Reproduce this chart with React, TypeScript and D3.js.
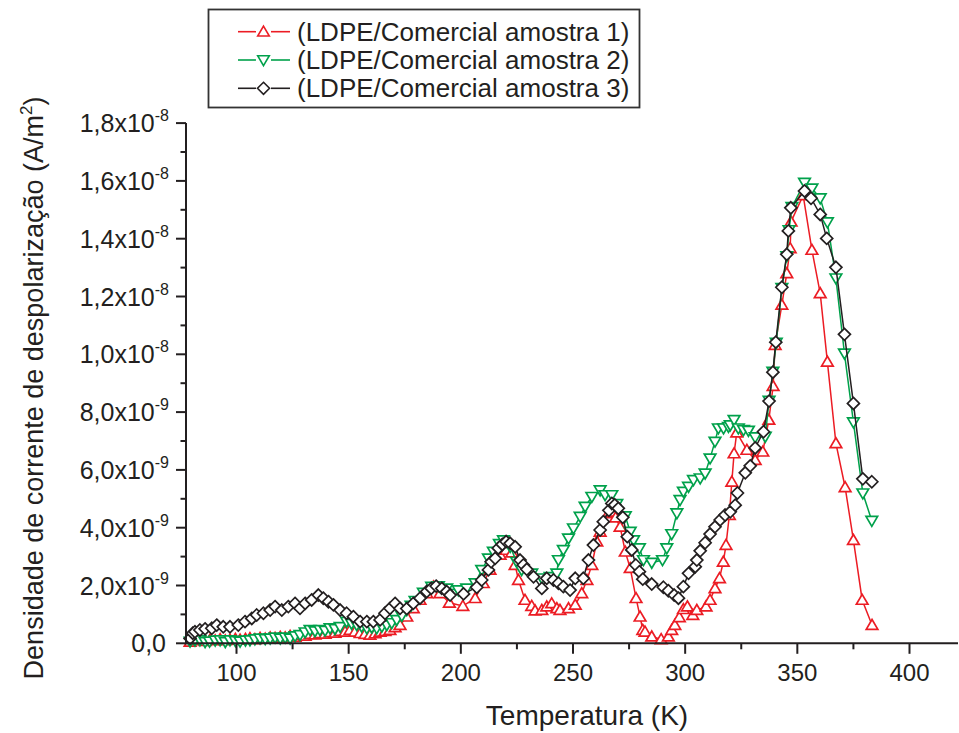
import React from 'react';
import * as d3 from 'd3';

const W = 959;
const H = 733;

// ---------- tick data ----------
const xTickValues = [100, 150, 200, 250, 300, 350, 400];
const xMinorValues = [125, 175, 225, 275, 325, 375, 425];
const yTickValues = [0, 2, 4, 6, 8, 10, 12, 14, 16, 18]; // units of 1e-9
const yMinorValues = [1, 3, 5, 7, 9, 11, 13, 15, 17];
const yTickMain = ['0,0', '2,0x10', '4,0x10', '6,0x10', '8,0x10', '1,0x10', '1,2x10', '1,4x10', '1,6x10', '1,8x10'];
const yTickExp = ['', '-9', '-9', '-9', '-9', '-8', '-8', '-8', '-8', '-8'];

const seriesNames = ['(LDPE/Comercial amostra 1)', '(LDPE/Comercial amostra 2)', '(LDPE/Comercial amostra 3)'];

// ---------- series 1 (red, up triangles) ----------
const s1T = [79.3, 81.5, 83.7, 86, 88.2, 90.5, 92.7, 95, 97.1, 99.5, 101.6, 104, 106, 108.2, 110.5, 112.8, 115, 117.2, 119.5, 121.7, 123.9, 126.1, 128.3, 130.6, 132.8, 135, 137.2, 139.5, 141.7, 143.9, 146.2, 148.4, 150.6, 152.8, 155.1, 157.3, 159.5, 161.8, 164, 166.2, 168.4, 170.7, 172.9, 175.9, 178.8, 181.8, 184.8, 187.8, 190.7, 194.9, 200.9, 206.4, 210, 213, 217.5, 220.2, 222.7, 224.2, 225.7, 228.6, 231.6, 233.1, 236.1, 238.3, 240.5, 242.8, 244.2, 248, 251, 253.9, 256.2, 258.4, 260.6, 262.1, 265.8, 267.3, 269, 271, 273.3, 275.5, 278.1, 279.9, 281.1, 282.1, 285.1, 289.3, 292.5, 294, 295.4, 297.4, 299.2, 301, 303.4, 305.2, 309.3, 311.1, 313.3, 315.3, 317, 318.2, 319.7, 320.8, 321.8, 323, 327.5, 331.2, 334.6, 337.3, 339.2, 340.1, 343.1, 345.3, 346.8, 347.2, 352.6, 356.5, 360.2, 363.4, 367.2, 371.3, 375.0, 378.9, 383.3];
const s1V = [0.05, 0.10, 0.12, 0.08, 0.12, 0.10, 0.14, 0.10, 0.12, 0.15, 0.12, 0.15, 0.17, 0.14, 0.18, 0.16, 0.20, 0.18, 0.22, 0.20, 0.25, 0.22, 0.28, 0.26, 0.32, 0.30, 0.35, 0.33, 0.38, 0.36, 0.42, 0.40, 0.46, 0.40, 0.35, 0.32, 0.29, 0.34, 0.40, 0.42, 0.46, 0.55, 0.63, 0.92, 1.21, 1.50, 1.73, 1.96, 1.73, 1.40, 1.29, 1.56, 2.08, 2.54, 3.06, 3.23, 3.14, 2.71, 2.19, 1.50, 1.29, 1.13, 1.15, 1.27, 1.38, 1.21, 1.15, 1.21, 1.33, 1.73, 2.19, 2.71, 3.52, 3.86, 4.50, 4.55, 4.35, 4.03, 3.17, 2.60, 1.56, 0.92, 0.46, 0.40, 0.23, 0.14, 0.23, 0.46, 0.63, 0.90, 1.18, 1.27, 0.98, 1.15, 1.27, 1.50, 1.90, 2.25, 2.82, 3.40, 4.44, 5.59, 6.57, 7.29, 6.69, 6.34, 6.63, 7.73, 8.90, 10.32, 11.71, 12.80, 13.67, 14.59, 15.50, 13.61, 12.11, 9.74, 6.92, 5.40, 3.57, 1.50, 0.63];

// ---------- series 2 (green, down triangles) ----------
const s2T = [79.3, 81.5, 83.7, 86, 88, 90.5, 92.7, 95, 97.1, 99.5, 101.6, 104, 106, 108.2, 110.5, 112.8, 115, 117.2, 119.5, 121.7, 123.9, 126.1, 128.3, 130.6, 132.8, 135, 137.2, 139.5, 141.7, 143.9, 146.2, 149.1, 151.3, 153.6, 155.8, 158.1, 160.3, 162.5, 164.8, 167, 169.2, 171.4, 173.7, 175.9, 177.8, 179.6, 183.3, 187, 190, 193.7, 198.9, 202.6, 206.4, 209.3, 212.3, 214.5, 217.2, 219, 222, 224.9, 227.1, 231.6, 236.1, 239.8, 242.8, 243.5, 245.7, 248, 250.2, 253.2, 255.4, 258.4, 262.1, 264.3, 267.3, 269.5, 273.3, 275.5, 277, 279.6, 281.4, 285.1, 289.9, 291.8, 294, 296.3, 297.7, 299.2, 301.5, 303.7, 306.7, 308.9, 311.1, 313.3, 314.8, 317.1, 319.3, 320.1, 321.8, 323.7, 326, 328.2, 331.2, 335.7, 337.4, 339.1, 340.6, 343.1, 345.3, 346.3, 347.6, 353.2, 356.5, 360.2, 363.4, 367.2, 371.0, 375.0, 379.2, 383.2];
const s2V = [0.06, 0.10, 0.11, 0.05, 0.06, 0.10, 0.11, 0.05, 0.11, 0.08, 0.06, 0.10, 0.11, 0.14, 0.17, 0.15, 0.17, 0.20, 0.17, 0.20, 0.17, 0.25, 0.29, 0.38, 0.46, 0.42, 0.46, 0.44, 0.52, 0.50, 0.57, 0.75, 0.68, 0.63, 0.58, 0.52, 0.55, 0.52, 0.58, 0.63, 0.70, 0.81, 0.95, 1.15, 1.30, 1.47, 1.75, 1.96, 1.98, 1.90, 1.84, 1.90, 2.08, 2.54, 2.94, 3.17, 3.44, 3.57, 3.34, 2.82, 2.54, 2.42, 2.25, 2.30, 2.42, 2.88, 3.23, 3.63, 3.98, 4.38, 4.73, 5.07, 5.30, 5.13, 5.13, 4.82, 4.40, 3.86, 3.57, 3.29, 2.88, 2.79, 2.88, 3.29, 3.78, 4.50, 4.96, 5.25, 5.42, 5.65, 5.71, 5.88, 6.40, 6.98, 7.44, 7.44, 7.49, 7.55, 7.73, 7.44, 7.38, 7.36, 7.13, 7.15, 8.40, 9.40, 10.40, 12.30, 13.40, 14.30, 15.10, 15.94, 15.74, 15.40, 14.57, 12.63, 10.03, 7.65, 5.19, 4.24];

// ---------- series 3 (black, diamonds) ----------
const s3T = [79.3, 80.5, 81.5, 83.7, 86, 89, 91.2, 94.1, 97.1, 100.8, 103.8, 106.8, 109, 112, 115, 117.2, 120.2, 123.1, 126.1, 128.3, 130.6, 133.5, 136.5, 138.7, 141, 143.2, 146.2, 149.1, 152.1, 155.1, 158.1, 161, 164, 166.2, 168.4, 170.7, 172.9, 175.9, 178.8, 181.8, 184.8, 186.8, 189, 191.5, 193.7, 195.2, 201.2, 207.1, 209.3, 212.3, 213.5, 215.3, 216.7, 218.5, 220.2, 222, 224.2, 226.4, 227.9, 229.4, 232.4, 236.1, 238.3, 241.3, 243.5, 245.7, 248.7, 251, 254.6, 256.9, 259.1, 262.1, 263.5, 266, 267.3, 268.6, 270.2, 272.2, 274.2, 276.2, 278, 279.6, 281.1, 285.1, 290.3, 292.5, 295.1, 297, 299.2, 301.5, 304.5, 305.2, 306.7, 308.9, 311.1, 313.3, 315.6, 317.8, 320.1, 322.3, 323.3, 326.8, 329, 331.2, 334.9, 337.4, 339.1, 340.4, 343.1, 345.3, 346.0, 347.1, 353.2, 356.1, 360.2, 363.1, 367.2, 371.0, 375.0, 379.2, 383.2];
const s3V = [0.17, 0.35, 0.40, 0.46, 0.50, 0.52, 0.63, 0.57, 0.57, 0.63, 0.75, 0.86, 0.98, 1.04, 1.15, 1.27, 1.15, 1.27, 1.38, 1.21, 1.38, 1.50, 1.67, 1.56, 1.44, 1.33, 1.15, 1.04, 0.92, 0.75, 0.75, 0.75, 0.81, 1.04, 1.21, 1.38, 1.21, 1.20, 1.38, 1.56, 1.79, 1.90, 1.98, 1.90, 1.79, 1.67, 1.71, 1.94, 2.19, 2.54, 2.82, 2.94, 3.29, 3.42, 3.52, 3.46, 3.34, 2.88, 2.71, 2.56, 2.30, 1.90, 2.25, 2.19, 2.08, 1.96, 1.84, 2.25, 2.25, 2.88, 3.40, 3.92, 4.21, 4.60, 4.84, 4.79, 4.67, 4.36, 3.69, 3.23, 2.71, 2.48, 2.22, 2.05, 1.94, 1.82, 1.67, 1.56, 1.96, 2.42, 2.65, 2.88, 3.20, 3.48, 3.78, 4.03, 4.27, 4.44, 4.55, 4.78, 5.20, 5.90, 6.14, 6.76, 7.32, 8.38, 9.38, 10.42, 12.32, 13.46, 14.27, 15.07, 15.65, 15.40, 14.84, 14.01, 13.01, 10.69, 8.30, 5.69, 5.59];

const RED = '#ec1c24';
const GREEN = '#00a14b';
const BLACK = '#231f20';
const FONT = '"Liberation Sans", Arial, Helvetica, sans-serif';

type Shape = 'up' | 'down' | 'diamond';

function markerPath(shape: Shape, cx: number, cy: number): string {
  if (shape === 'up') {
    return `M${cx},${cy - 5.6}L${cx + 5.8},${cy + 4.3}L${cx - 5.8},${cy + 4.3}Z`;
  }
  if (shape === 'down') {
    return `M${cx},${cy + 5.6}L${cx + 5.8},${cy - 4.3}L${cx - 5.8},${cy - 4.3}Z`;
  }
  return `M${cx},${cy - 6}L${cx + 6},${cy}L${cx},${cy + 6}L${cx - 6},${cy}Z`;
}

export default function App() {
  const x = d3.scaleLinear().domain([100, 400]).range([236.5, 909.5]);
  const y = d3.scaleLinear().domain([0, 18]).range([643.3, 123.1]);
  const axisLeft = 186;
  const axisBottom = 643.3;

  const series = [
    { T: s1T, V: s1V, color: RED, shape: 'up' as Shape },
    { T: s2T, V: s2V, color: GREEN, shape: 'down' as Shape },
    { T: s3T, V: s3V, color: BLACK, shape: 'diamond' as Shape },
  ];

  const line = d3
    .line<[number, number]>()
    .x((d) => x(d[0]))
    .y((d) => y(d[1]));

  return (
    <svg width={W} height={H} viewBox={`0 0 ${W} ${H}`} style={{ display: 'block', position: 'absolute', left: 0, top: 0, background: '#fff' }}>
      <rect x={0} y={0} width={W} height={H} fill="#fff" />

      {/* series */}
      {series.map((s, i) => {
        const pts = s.T.map((t, k) => [t, s.V[k]] as [number, number]);
        return (
          <g key={i}>
            <path d={line(pts) || ''} fill="none" stroke={s.color} strokeWidth={1.5} />
            {pts.map((p, k) => (
              <path key={k} d={markerPath(s.shape, x(p[0]), y(p[1]))} fill="#fff" stroke={s.color} strokeWidth={1.7} strokeLinejoin="miter" />
            ))}
          </g>
        );
      })}

      {/* axes */}
      <line x1={axisLeft} x2={axisLeft} y1={y(18)} y2={axisBottom + 1} stroke={BLACK} strokeWidth={2} />
      <line x1={axisLeft - 1} x2={958} y1={axisBottom} y2={axisBottom} stroke={BLACK} strokeWidth={2} />

      {yTickValues.map((v) => (
        <line key={'yt' + v} x1={axisLeft - 10} x2={axisLeft} y1={y(v)} y2={y(v)} stroke={BLACK} strokeWidth={2} />
      ))}
      {yMinorValues.map((v) => (
        <line key={'ym' + v} x1={axisLeft - 5.5} x2={axisLeft} y1={y(v)} y2={y(v)} stroke={BLACK} strokeWidth={2} />
      ))}
      {xTickValues.map((v) => (
        <line key={'xt' + v} x1={x(v)} x2={x(v)} y1={axisBottom} y2={axisBottom + 10.5} stroke={BLACK} strokeWidth={2} />
      ))}
      {xMinorValues.map((v) => (
        <line key={'xm' + v} x1={x(v)} x2={x(v)} y1={axisBottom} y2={axisBottom + 6} stroke={BLACK} strokeWidth={2} />
      ))}

      {/* x tick labels */}
      {xTickValues.map((v) => (
        <text key={'xl' + v} x={x(v)} y={681} textAnchor="middle" fontFamily={FONT} fontSize={24} fill={BLACK}>
          {v}
        </text>
      ))}

      {/* y tick labels */}
      {yTickValues.map((v, i) => (
        <text key={'yl' + v} x={yTickExp[i] ? 169 : 166} y={y(v) + 9} textAnchor="end" fontFamily={FONT} fontSize={25} fill={BLACK}>
          {yTickMain[i]}
          {yTickExp[i] ? (
            <tspan dy={-11} fontSize={16}>
              {yTickExp[i]}
            </tspan>
          ) : null}
        </text>
      ))}

      {/* axis titles */}
      <text x={587} y={725} textAnchor="middle" fontFamily={FONT} fontSize={28} fill={BLACK}>
        Temperatura (K)
      </text>
      <text transform="translate(43,388) rotate(-90)" textAnchor="middle" fontFamily={FONT} fontSize={27} fill={BLACK}>
        Densidade de corrente de despolarização (A/m
        <tspan dy={-11} fontSize={17}>2</tspan>
        <tspan dy={11}>)</tspan>
      </text>

      {/* legend */}
      <rect x={208.5} y={9.5} width={431} height={98} fill="#fff" stroke="#333" strokeWidth={1.8} />
      {series.map((s, i) => {
        const cy = 31.7 + i * 28.3;
        return (
          <g key={'lg' + i}>
            <line x1={238} x2={256} y1={cy} y2={cy} stroke={s.color} strokeWidth={1.6} />
            <line x1={271} x2={290} y1={cy} y2={cy} stroke={s.color} strokeWidth={1.6} />
            <path d={markerPath(s.shape, 263.5, cy)} fill="#fff" stroke={s.color} strokeWidth={1.6} />
            <text x={297} y={cy + 9} fontFamily={FONT} fontSize={26} fill={BLACK}>
              {seriesNames[i]}
            </text>
          </g>
        );
      })}
    </svg>
  );
}
